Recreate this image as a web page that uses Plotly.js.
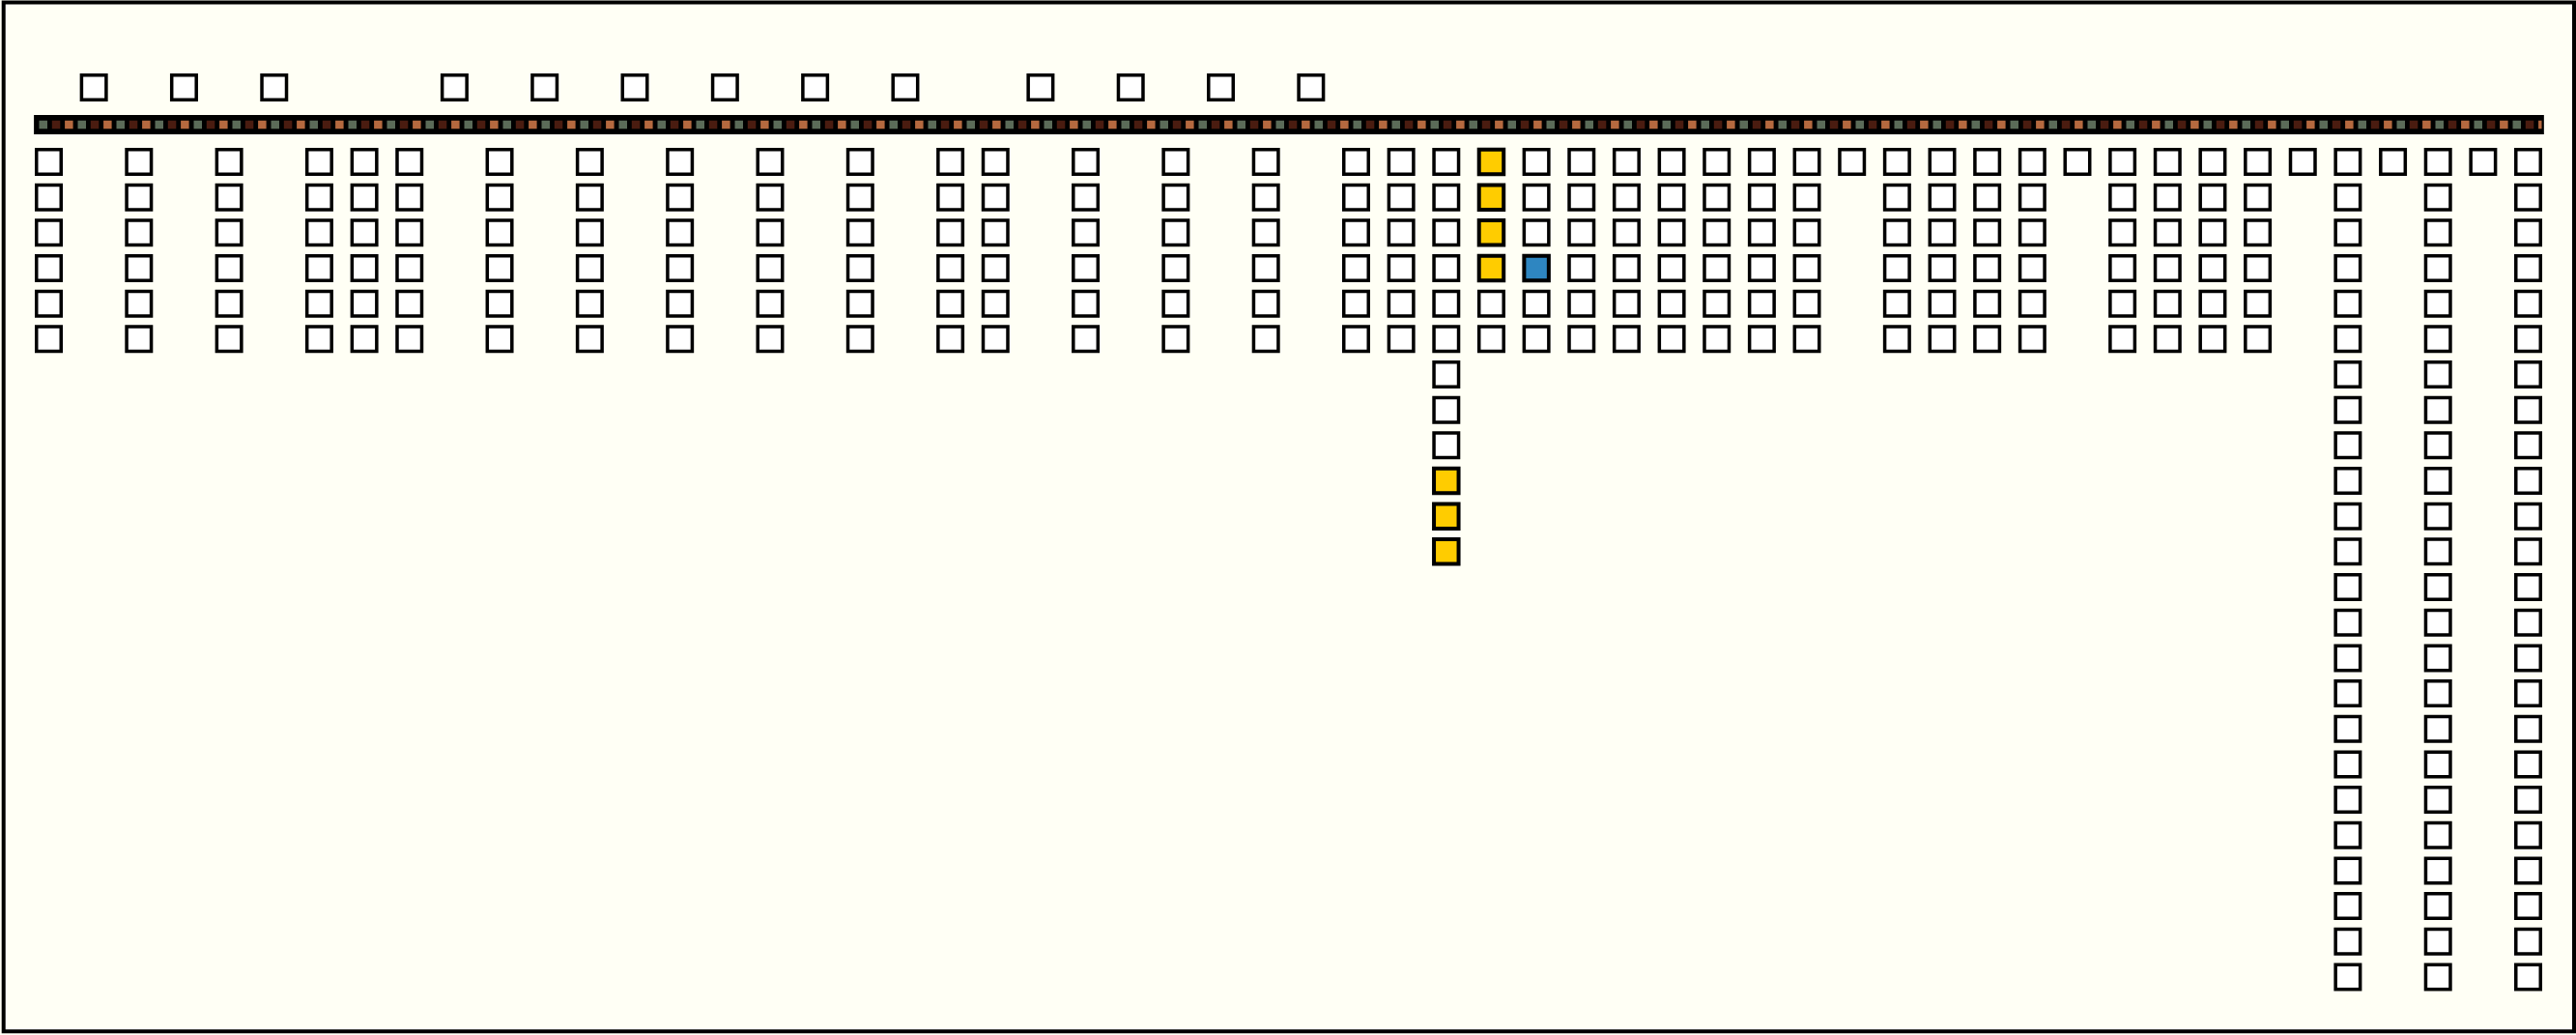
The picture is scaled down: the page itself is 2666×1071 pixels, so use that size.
<!DOCTYPE html>
<html>
<head>
<meta charset="utf-8">
<script src="https://cdn.plot.ly/plotly-3.0.1.min.js"></script>
<style>
  html, body { margin: 0; padding: 0; background: #fffff5; }
  #chart { width: 2666px; height: 1071px; }
</style>
</head>
<body>
<div id="chart"></div>
<script>
// ---- data ----
// Column positions (index along the track) with stacks above the track
const topCols = [1, 3, 5, 9, 11, 13, 15, 17, 19, 22, 24, 26, 28];
const topCounts = [1, 1, 1, 1, 1, 1, 1, 1, 1, 1, 1, 1, 1];

// Column positions with stacks below the track
const bottomCols = [0, 2, 4, 6, 7, 8, 10, 12, 14, 16, 18, 20, 21, 23, 25, 27, 29, 30,
  31, 32, 33, 34, 35, 36, 37, 38, 39, 40, 41, 42, 43, 44, 45, 46, 47, 48, 49, 50,
  51, 52, 53, 54, 55];
const bottomCounts = [6, 6, 6, 6, 6, 6, 6, 6, 6, 6, 6, 6, 6, 6, 6, 6, 6, 6,
  12, 6, 6, 6, 6, 6, 6, 6, 6, 1, 6, 6, 6, 6, 1, 6, 6, 6, 6, 1,
  24, 1, 24, 1, 24];

// Highlighted cells (column, row below track, colour)
const highlightCols = [31, 31, 31, 32, 32, 32, 32, 33];
const highlightRows = [9, 10, 11, 0, 1, 2, 3, 3];
const highlightColors = ['#ffcc00', '#ffcc00', '#ffcc00', '#ffcc00', '#ffcc00', '#ffcc00', '#ffcc00', '#2e86c1'];

const trackStart = -0.33, trackEnd = 55.35;

// ---- layout constants ----
const GAP = 1.05;        // distance (in row units) from track to first row
const BASE = '#ffffff';

// build stacks
const bx = [], by = [], bc = [], bw = [];
bottomCols.forEach((c, i) => {
  for (let r = 0; r < bottomCounts[i]; r++) {
    bx.push(c); by.push(-(GAP + r));
    let col = BASE, w = 3.5;
    for (let h = 0; h < highlightCols.length; h++) {
      if (highlightCols[h] === c && highlightRows[h] === r) { col = highlightColors[h]; w = 4; }
    }
    bc.push(col); bw.push(w);
  }
});
const tx = [], ty = [];
topCols.forEach((c, i) => {
  for (let r = 0; r < topCounts[i]; r++) { tx.push(c); ty.push(GAP + r); }
});

const pxPerX = 46.655, x0px = 50.5;
const pxPerY = 36.67, y0px = 129;
const W = 2666, H = 1071;

function dashLine(startX, color) {
  return {
    type: 'scatter', mode: 'lines', x: [startX, trackEnd - 0.05], y: [0, 0],
    line: { color: color, width: 8.5, dash: '8.5px,31.5px' },
    hoverinfo: 'skip', showlegend: false
  };
}

const traces = [
  { type: 'scatter', mode: 'lines', x: [trackStart, trackEnd], y: [0, 0],
    line: { color: '#000000', width: 20 }, hoverinfo: 'skip', showlegend: false },
  dashLine((40.5 - x0px) / pxPerX, '#5b6b58'),
  dashLine((53.8 - x0px) / pxPerX, '#4a1c10'),
  dashLine((67.1 - x0px) / pxPerX, '#b5693f'),
  { type: 'scatter', mode: 'markers', x: bx, y: by,
    marker: { symbol: 'square', size: 25.5, color: bc, line: { color: '#000000', width: bw } },
    hoverinfo: 'x+y', showlegend: false },
  { type: 'scatter', mode: 'markers', x: tx, y: ty,
    marker: { symbol: 'square', size: 25.5, color: BASE, line: { color: '#000000', width: 3.5 } },
    hoverinfo: 'x+y', showlegend: false }
];

const layout = {
  width: W, height: H,
  margin: { l: 0, r: 0, t: 0, b: 0, pad: 0 },
  paper_bgcolor: '#fffff5', plot_bgcolor: '#fffff5',
  showlegend: false,
  xaxis: { range: [-x0px / pxPerX, (W - x0px) / pxPerX], visible: false, fixedrange: true },
  yaxis: { range: [-(H - y0px) / pxPerY, y0px / pxPerY], visible: false, fixedrange: true },
  shapes: [
    { type: 'rect', xref: 'paper', yref: 'paper',
      x0: 3.7 / W, x1: 2664 / W, y0: 1 - 1067.3 / H, y1: 1 - 2.5 / H,
      line: { color: '#000000', width: 4 }, fillcolor: 'rgba(0,0,0,0)' }
  ]
};

Plotly.newPlot('chart', traces, layout, { staticPlot: true, displayModeBar: false });
</script>
</body>
</html>
